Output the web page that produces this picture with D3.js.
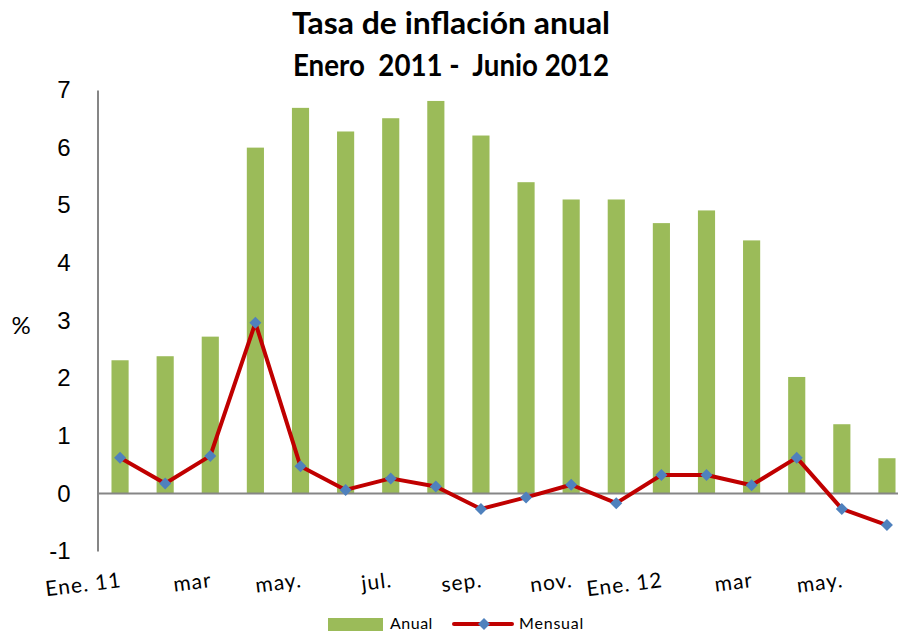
<!DOCTYPE html>
<html>
<head>
<meta charset="utf-8">
<script src="https://cdn.jsdelivr.net/npm/d3@7"></script>
<style>
  body { margin: 0; background: #fff; }
  svg { font-family: "Lato", "Liberation Sans", sans-serif; }
</style>
</head>
<body>
<div id="chart"></div>
<script>
// months Jan 2011 - Jun 2012
var months = ["Ene. 11", "feb", "mar", "abr", "may.", "jun", "jul.", "ago", "sep.", "oct", "nov.", "dic",
              "Ene. 12", "feb", "mar", "abr", "may.", "jun"];
var anual = [2.31, 2.38, 2.72, 6.0, 6.69, 6.28, 6.51, 6.81, 6.21, 5.40, 5.10, 5.10, 4.69, 4.91, 4.39, 2.02, 1.20, 0.61];
var mensual = [0.62, 0.17, 0.65, 2.96, 0.47, 0.06, 0.26, 0.12, -0.27, -0.07, 0.15, -0.17, 0.32, 0.32, 0.14, 0.62, -0.27, -0.55];
var yTicks = [-1, 0, 1, 2, 3, 4, 5, 6, 7];
var titleLines = ["Tasa de inflación anual", "Enero  2011 -  Junio 2012"];
var titleWidths = [318, 316];

var width = 898, height = 633;
var svg = d3.select("#chart").append("svg")
  .attr("width", width)
  .attr("height", height);

var idx = d3.range(months.length);

// the plot runs off the right edge of the picture, as in the original
var x = d3.scaleBand().domain(idx).range([97.5, 909.5]).paddingInner(0.62).paddingOuter(0.31);
var y = d3.scaleLinear().domain([-1, 7]).range([551, 90]);
var cx = function(i){ return x(i) + x.bandwidth() / 2; };

// title
svg.append("g").selectAll("text").data(titleLines).enter().append("text")
  .attr("x", 451)
  .attr("y", function(d, i){ return 34 + i * 42; })
  .attr("text-anchor", "middle")
  .attr("textLength", function(d, i){ return titleWidths[i]; })
  .attr("lengthAdjust", "spacingAndGlyphs")
  .style("font-weight", "bold")
  .style("font-size", "31px")
  .style("white-space", "pre")
  .text(function(d){ return d; });

// bars
svg.append("g").selectAll("rect").data(anual).enter().append("rect")
  .attr("x", function(d, i){ return x(i); })
  .attr("y", function(d){ return y(d); })
  .attr("width", x.bandwidth())
  .attr("height", function(d){ return y(0) - y(d); })
  .attr("fill", "#9BBB59");

// y axis
var yAxis = svg.append("g")
  .attr("transform", "translate(97.5,0)")
  .call(d3.axisLeft(y).tickValues(yTicks).tickSize(0).tickPadding(27).tickFormat(function(d){ return String(d); }));
yAxis.select(".domain").attr("stroke", "#868686").attr("stroke-width", 2);
yAxis.selectAll("text").style("font-size", "24px").attr("fill", "#000").attr("font-family", null);

// zero line
svg.append("line")
  .attr("x1", 97.5).attr("x2", width)
  .attr("y1", y(0)).attr("y2", y(0))
  .attr("stroke", "#868686").attr("stroke-width", 2);

// x labels, every second month, rotated
svg.append("g").selectAll("text").data(idx.filter(function(i){ return i % 2 === 0; })).enter().append("text")
  .attr("transform", function(i){ return "translate(" + (cx(i) + 2) + ",587) rotate(-7)"; })
  .attr("text-anchor", "end")
  .style("font-size", "21px")
  .style("letter-spacing", "1px")
  .text(function(i){ return months[i]; });

// "%" label
svg.append("text")
  .attr("x", 21).attr("y", 334)
  .attr("text-anchor", "middle")
  .style("font-size", "24px")
  .text("%");

// line
var line = d3.line()
  .x(function(d, i){ return cx(i); })
  .y(function(d){ return y(d); });

svg.append("path")
  .datum(mensual)
  .attr("d", line)
  .attr("fill", "none")
  .attr("stroke", "#C00000")
  .attr("stroke-width", 4)
  .attr("stroke-linejoin", "round");

var diamond = d3.symbol().type(d3.symbolSquare).size(72);
svg.append("g").selectAll("path").data(mensual).enter().append("path")
  .attr("d", diamond)
  .attr("transform", function(d, i){ return "translate(" + cx(i) + "," + y(d) + ") rotate(45)"; })
  .attr("fill", "#4F81BD");

// legend
var legend = svg.append("g");
legend.append("rect")
  .attr("x", 328).attr("y", 618).attr("width", 55).attr("height", 13)
  .attr("fill", "#9BBB59");
legend.append("text")
  .attr("x", 390).attr("y", 629)
  .style("font-size", "16px")
  .style("letter-spacing", "0.5px")
  .text("Anual");
legend.append("line")
  .attr("x1", 454).attr("x2", 512).attr("y1", 624).attr("y2", 624)
  .attr("stroke", "#C00000").attr("stroke-width", 4).attr("stroke-linecap", "round");
legend.append("path")
  .attr("d", diamond)
  .attr("transform", "translate(484,624) rotate(45)")
  .attr("fill", "#4F81BD");
legend.append("text")
  .attr("x", 519).attr("y", 629)
  .style("font-size", "16px")
  .style("letter-spacing", "0.8px")
  .text("Mensual");
</script>
</body>
</html>
